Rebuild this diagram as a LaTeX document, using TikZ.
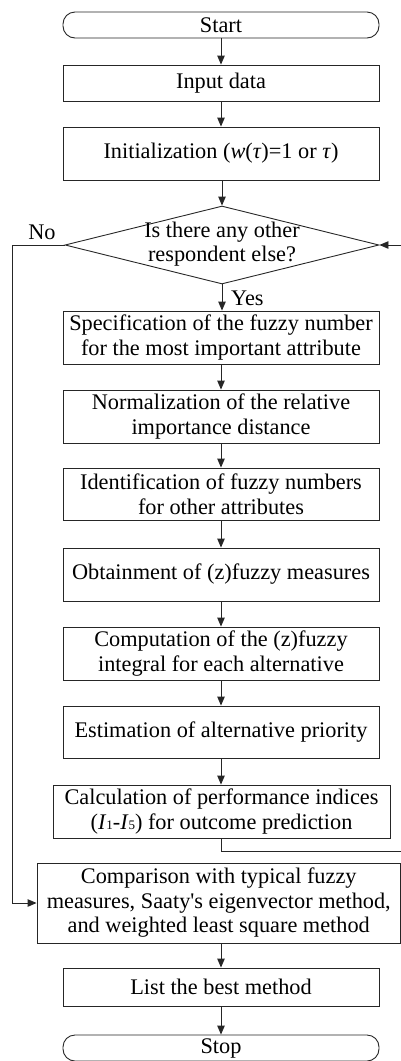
\documentclass[tikz,border=0pt]{standalone}
\usepackage{fontspec}
\setmainfont{Liberation Serif}
\usetikzlibrary{shapes.geometric,arrows.meta}
\begin{document}
\begin{tikzpicture}[x=1pt,y=-1pt,
  every node/.style={font=\fontsize{22.3}{24.5}\selectfont, text=black},
  ln/.style={line width=0.9pt, draw=black!85},
  arr/.style={ln, -{Triangle[length=9pt,width=7.5pt]}},
  term/.style={ln, rectangle, rounded corners=12pt, minimum width=316pt, minimum height=26pt, inner sep=0pt},
  proc/.style={ln, rectangle, minimum width=316pt, inner sep=0pt, align=center},
  decision/.style={ln, diamond, minimum width=314pt, minimum height=78pt, inner sep=0pt},
  lbl/.style={inner sep=0pt}
]
\useasboundingbox (0,0) rectangle (401,1061);
\node[term] (start) at (221,25) {Start};
\node[proc, minimum height=36pt] (input) at (221,83) {Input data};
\node[proc, minimum height=53pt] (init) at (221,153.5) {Initialization (\textit{w}(\textit{τ})=1 or \textit{τ})};
\node[decision] (dec) at (222,245) {};
\node[lbl, align=center] (dect) at (222,244) {Is there any other\\respondent else?};
\node[proc, minimum height=53pt] (spec) at (221,337.5) {Specification of the fuzzy number\\for the most important attribute};
\node[proc, minimum height=53pt] (norm) at (221,416.5) {Normalization of the relative\\importance distance};
\node[proc, minimum height=52pt] (ident) at (221,494) {Identification of fuzzy numbers\\for other attributes};
\node[proc, minimum height=53pt] (obt) at (221,574.5) {Obtainment of (z)fuzzy measures};
\node[proc, minimum height=53pt] (comp) at (221,653.5) {Computation of the (z)fuzzy\\integral for each alternative};
\node[proc, minimum height=52pt] (est) at (221,732) {Estimation of alternative priority};
\node[proc, minimum width=337pt, minimum height=53pt] (calc) at (221.5,811.5) {Calculation of performance indices\\(\textit{I}{\fontsize{13}{13}\selectfont 1}-\textit{I}{\fontsize{13}{13}\selectfont 5}) for outcome prediction};
\node[proc, minimum width=363.5pt, minimum height=80pt] (cmp) at (218.75,903) {Comparison with typical fuzzy\\measures, Saaty\textquotesingle s eigenvector method,\\and weighted least square method};
\node[proc, minimum height=38pt] (list) at (221,987) {List the best method};
\node[term] (stop) at (221,1048) {Stop};
\node[lbl] (no) at (42,232) {No};
\node[lbl, anchor=west] (yes) at (231,298) {Yes};
\coordinate (rc) at (403,851);
\coordinate (lc) at (12,903);
\draw[arr] (start) -- (input);
\draw[arr] (input) -- (init);
\draw[arr] (init.south -| dec.north) -- (dec.north);
\draw[arr] (dec.south) -- (dec.south |- spec.north);
\draw[arr] (spec) -- (norm);
\draw[arr] (norm) -- (ident);
\draw[arr] (ident) -- (obt);
\draw[arr] (obt) -- (comp);
\draw[arr] (comp) -- (est);
\draw[arr] (est.south) -- (est.south |- calc.north);
\draw[arr] (cmp.south -| list.north) -- (list.north);
\draw[arr] (list) -- (stop);
\draw[arr] (calc.south) |- (rc) |- (dec.east);
\draw[arr] (dec.west) -| (lc) |- (cmp.west);
\end{tikzpicture}
\end{document}
